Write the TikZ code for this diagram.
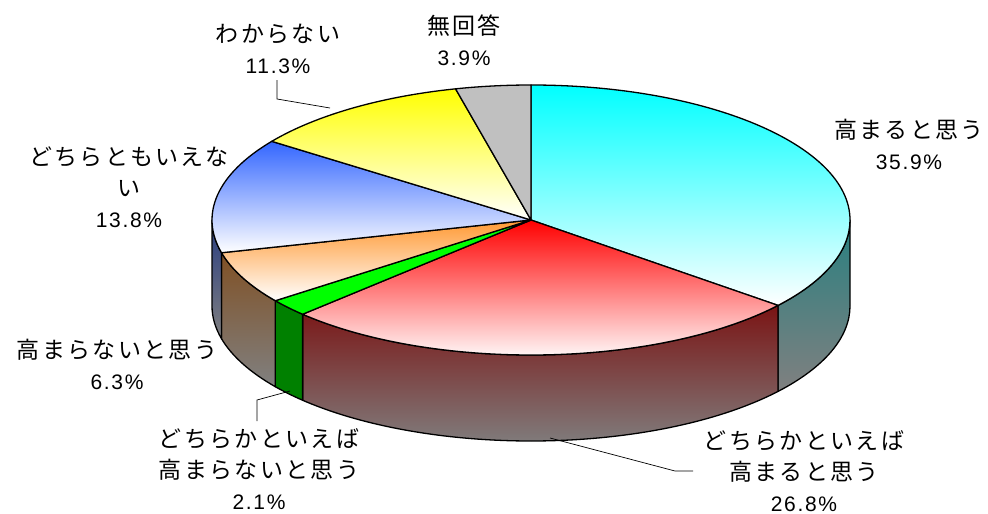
\documentclass[tikz,border=0pt]{standalone}
\usepackage{fontspec}
\newfontfamily\jf[LetterSpace=10]{Noto Sans CJK JP}
\newfontfamily\nf[LetterSpace=8]{Liberation Sans}
\def\R{319}\def\S{135}\def\D{86}
\newcommand\pieTop[4]{%
  \path[top color=#1,bottom color=#2,draw=black,line width=1.3pt,line join=round]
    (531,-220) -- ({531+\R*cos(#3)},{-220+\S*sin(#3)})
    arc[start angle=#3,end angle=#4,x radius=\R pt,y radius=\S pt] -- cycle;}
\newcommand\pieSide[4]{%
  \path[top color=#1,bottom color=#2,draw=black,line width=1.3pt,line join=round]
    ({531+\R*cos(#3)},{-220+\S*sin(#3)})
    arc[start angle=#3,end angle=#4,x radius=\R pt,y radius=\S pt]
    -- ++(0,-\D)
    arc[start angle=#4,end angle=#3,x radius=\R pt,y radius=\S pt] -- cycle;}
\definecolor{cyanS}{RGB}{40,128,128}
\definecolor{redS}{RGB}{122,20,20}
\definecolor{greenS}{RGB}{0,128,0}
\definecolor{orangeS}{RGB}{128,80,36}
\definecolor{blueS}{RGB}{40,60,128}
\definecolor{sideBot}{RGB}{128,128,128}
\definecolor{cyanT}{RGB}{0,255,255}
\definecolor{redT}{RGB}{255,0,0}
\definecolor{greenT}{RGB}{0,255,0}
\definecolor{orangeT}{RGB}{255,153,51}
\definecolor{blueT}{RGB}{51,102,255}
\definecolor{yellowT}{RGB}{255,255,0}
\definecolor{grayT}{RGB}{192,192,192}
\begin{document}
\begin{tikzpicture}[x=1pt,y=1pt,
  lbl/.style={align=center,inner sep=0pt,font=\jf\fontsize{23}{31}\selectfont},
  leader/.style={draw=black,line width=0.7pt}]
\useasboundingbox[fill=white] (0,0) rectangle (988,-514);
% sides
\pieSide{cyanS}{sideBot}{0}{-39.24}
\pieSide{redS}{sideBot}{-39.24}{-135.72}
\pieSide{greenS}{greenS}{-135.72}{-143.28}
\pieSide{orangeS}{sideBot}{-143.28}{-165.96}
\pieSide{blueS}{sideBot}{-165.96}{-180}
% tops
\pieTop{cyanT}{white}{90}{-39.24}
\pieTop{redT}{white}{-39.24}{-135.72}
\pieTop{greenT}{greenT}{-135.72}{-143.28}
\pieTop{orangeT}{white}{-143.28}{-165.96}
\pieTop{blueT}{white}{-165.96}{-215.64}
\pieTop{yellowT}{white}{-215.64}{-256.32}
\pieTop{grayT}{grayT}{-256.32}{-270}
% labels
\newcommand\pc[1]{{\nf\fontsize{21}{31}\selectfont #1}}
\node[lbl] (n1) at (909,-144) {高まると思う\\\pc{35.9\%}};
\node[lbl] (n2) at (804,-471) {どちらかといえば\\高まると思う\\\pc{26.8\%}};
\node[lbl] (n3) at (259,-469) {どちらかといえば\\高まらないと思う\\\pc{2.1\%}};
\node[lbl] (n4) at (117,-364) {高まらないと思う\\\pc{6.3\%}};
\node[lbl] (n5) at (129,-187) {どちらともいえな\\い\\\pc{13.8\%}};
\node[lbl] (n6) at (278,-49) {わからない\\\pc{11.3\%}};
\node[lbl] (n7) at (464,-40) {無回答\\\pc{3.9\%}};
% leader lines
\coordinate (w1) at (277,-80);
\coordinate (w2) at (277,-99);
\coordinate (w3) at (330,-108);
\draw[leader] (w1) -- (w2) -- (w3);
\coordinate (g1) at (257,-421);
\coordinate (g2) at (257,-400);
\coordinate (g3) at (290,-391);
\draw[leader] (g1) -- (g2) -- (g3);
\coordinate (r1) at (693,-471);
\coordinate (r2) at (675,-471);
\coordinate (r3) at (550,-438);
\draw[leader] (r1) -- (r2) -- (r3);
\end{tikzpicture}
\end{document}
